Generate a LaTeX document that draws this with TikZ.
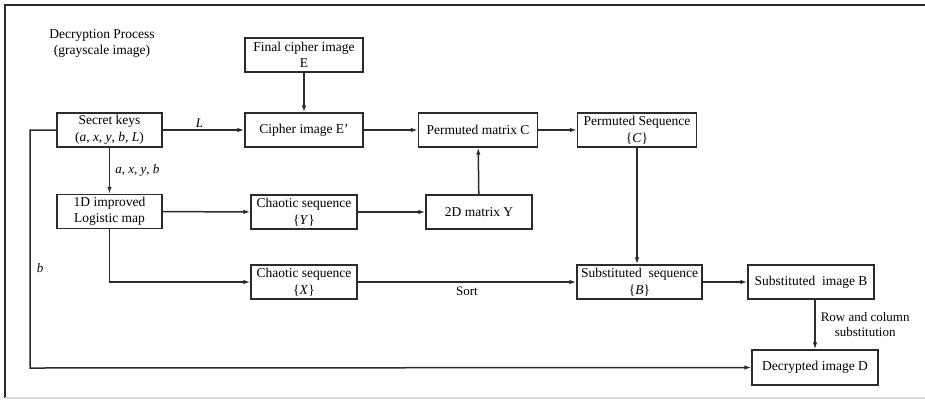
\documentclass[tikz,border=0pt]{standalone}
\usepackage{fontspec}
\setmainfont{Liberation Serif}
\usetikzlibrary{arrows.meta,positioning}
\definecolor{FlowInk}{HTML}{2B2B2B}

\begin{document}
\begin{tikzpicture}[
    x=1pt,y=-1pt,
    font=\fontsize{13.5}{16.5}\selectfont,
    box/.style={draw=FlowInk,line width=1.3pt,fill=white,
      minimum height=34pt,inner sep=2pt,align=center},
    arr/.style={-{Latex[length=7pt,width=4.5pt]},line width=1.5pt,draw=FlowInk},
    lbl/.style={inner sep=2pt,font=\fontsize{13}{15.5}\selectfont}
  ]
    \useasboundingbox (0,0) rectangle (925,400);
    % outer frame
    \draw[FlowInk,line width=1.6pt] (925,5) -- (5,5) -- (5,398);
    \draw[black!15,line width=1.5pt] (5,398) -- (925,398);

    \node[align=center] (title) at (102,43.5) {Decryption Process\\(grayscale image)};

    \node[box,minimum width=118pt] (final) at (304,55) {Final cipher image\\E};
    \node[box,minimum width=105pt] (keys) at (109.5,130) {Secret keys\\(\textit{a}, \textit{x}, \textit{y}, \textit{b}, \textit{L})};
    \node[box,minimum width=118pt] (cipher) at (304,130) {Cipher image E'};
    \node[box,minimum width=119pt] (permC) at (478,130) {Permuted matrix C};
    \node[box,minimum width=119pt] (permSeq) at (637,130) {Permuted Sequence\\\{\textit{C}\}};
    \node[box,minimum width=105pt] (logistic) at (109.5,211.5) {1D improved\\Logistic map};
    \node[box,minimum width=106pt] (chaosY) at (304,212) {Chaotic sequence\\\{\textit{Y}\}};
    \node[box,minimum width=106pt] (matY) at (479,212) {2D matrix Y};
    \node[box,minimum width=106pt] (chaosX) at (304,282) {Chaotic sequence\\\{\textit{X}\}};
    \node[box,minimum width=125pt] (subSeq) at (639.5,282) {Substituted\ \ sequence\\\{\textit{B}\}};
    \node[box,minimum width=126pt] (subImg) at (811,282) {Substituted\ \ image B};
    \node[box,minimum width=126pt,minimum height=35pt] (dec) at (815,367.5) {Decrypted image D};
    \coordinate (bturn) at (30,368);

    \draw[arr] (final) -- (cipher);
    \draw[arr] (keys) -- node[lbl,above,pos=0.45] {\textit{L}} (cipher);
    \draw[arr] (cipher) -- (permC);
    \draw[arr] (permC) -- (permSeq);
    \draw[arr] (permSeq.south) -- (permSeq.south |- subSeq.north);
    \draw[arr] (keys) -- node[lbl,right=3pt] {\textit{a}, \textit{x}, \textit{y}, \textit{b}} (logistic);
    \draw[arr] (logistic) -- (chaosY);
    \draw[arr] (chaosY) -- (matY);
    \draw[arr] (matY) -- (permC);
    \draw[arr] (logistic) |- (chaosX);
    \draw[arr] (chaosX) -- node[lbl,below=2pt] {Sort} (subSeq);
    \draw[arr] (subSeq) -- (subImg);
    \draw[arr] (dec.north |- subImg.south) -- node[lbl,right=3pt,align=center] {Row and column\\substitution} (dec.north);
    \draw[arr] (keys.west) -| node[lbl,right=4pt,pos=0.79] {\textit{b}} (bturn) -- (dec.west);
\end{tikzpicture}
\end{document}
